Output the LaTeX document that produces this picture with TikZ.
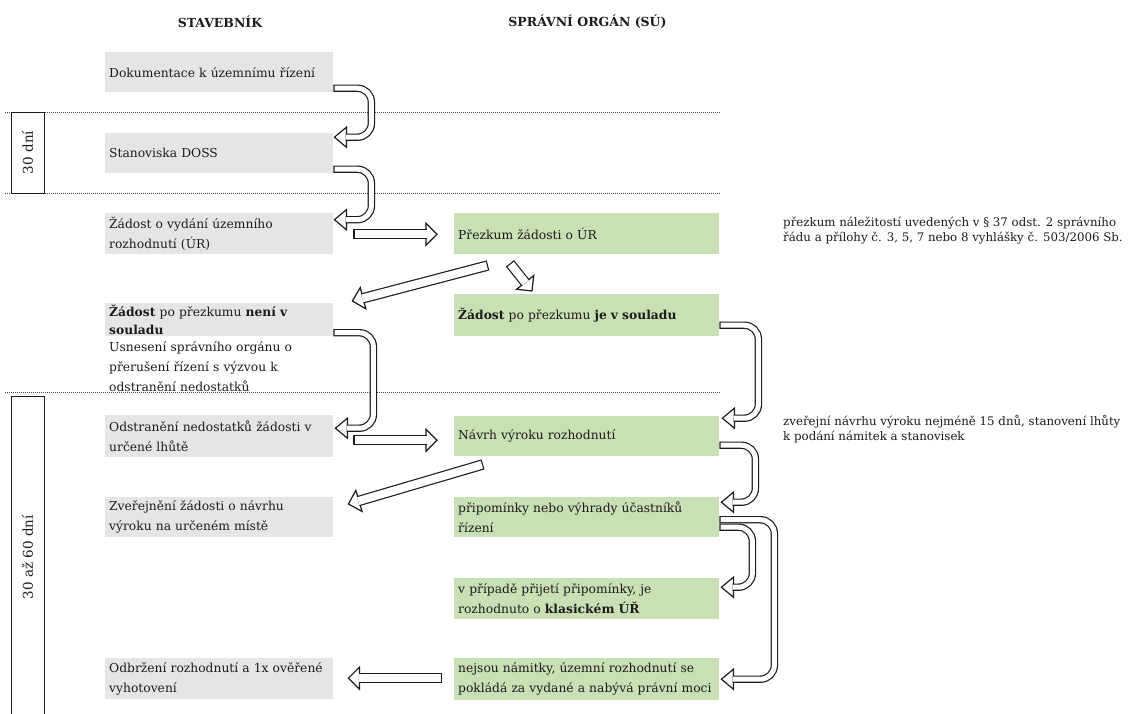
\documentclass[tikz,border=0pt]{standalone}
\usepackage{fontspec}
\setmainfont{DejaVu Serif}
\usetikzlibrary{calc}

\definecolor{boxgray}{RGB}{229,229,229}
\definecolor{boxgreen}{RGB}{201,223,180}
\definecolor{ink}{RGB}{28,28,28}

% hollow arrow head: tip, point it comes from, length, half width
\newcommand\blockhead[4]{%
  \coordinate (hb) at ($(#1)!#3!(#2)$);
  \filldraw[headline] (#1) -- ($(hb)!#4!90:(#1)$) -- ($(hb)!#4!-90:(#1)$) -- cycle;}

% straight hollow arrow: start, tip
\newcommand\straightarrow[2]{%
  \blockhead{#2}{#1}{11pt}{11pt}
  \draw[line width=10.4pt, draw=ink] (#1) -- ($(#2)!10.2pt!(#1)$);
  \draw[line width=8pt, draw=white] ($(#1)!1.2pt!(#2)$) -- ($(#2)!10.2pt!(#1)$);}

% U-turn hollow arrow: start, tip, horizontal reach of the bend
\newcommand\uarrow[3]{%
  \coordinate (uf) at ($(#2)+(30,0)$);
  \blockhead{#2}{uf}{12pt}{10pt}
  \coordinate (ue) at ($(#2)+(11.2,0)$);
  \coordinate (uc) at ($(#1)+(#3,0)$);
  \draw[line width=7.4pt, draw=ink, rounded corners=14pt] (#1) -- (uc) |- (ue);
  \draw[line width=5pt, draw=white, rounded corners=14pt] ($(#1)+(1.2,0)$) -- (uc) |- (ue);}

\tikzset{
  txt/.style={font=\fontsize{12.3}{20}\selectfont, text=ink},
  lbox/.style={txt, anchor=north west, fill=boxgray, text width=220pt,
    inner xsep=4pt, inner ysep=0pt, align=left},
  rbox/.style={txt, anchor=north west, fill=boxgreen, text width=257pt,
    inner xsep=4pt, inner ysep=0pt, align=left},
  note/.style={font=\fontsize{11.8}{15}\selectfont, text=ink, anchor=north west,
    align=left, inner sep=0pt},
  colhead/.style={font=\fontsize{12.5}{15}\selectfont\bfseries, text=ink},
  sidebox/.style={draw=ink, line width=1pt, fill=white, rotate=90,
    font=\fontsize{13.5}{15}\selectfont, text=ink, inner sep=0pt},
  sepline/.style={draw=ink!80, line width=0.7pt, dash pattern=on 0.8pt off 1.2pt},
  headline/.style={fill=white, draw=ink, line width=1.2pt, line join=miter},
}

\begin{document}
\begin{tikzpicture}[x=1pt, y=-1pt]
\useasboundingbox (0,0) rectangle (1138,713);
\fill[white] (0,0) rectangle (1138,713);

% period separators
\draw[sepline] (5,112) -- (720,112);
\draw[sepline] (5,193) -- (720,193);
\draw[sepline] (5,392) -- (720,392);

% period labels
\node[sidebox, minimum width=81pt, minimum height=33pt] (p30) at (27.5,152.5) {30 dní};
\node[sidebox, minimum width=322pt, minimum height=33pt] (p60) at (27.5,557) {30 až 60 dní};

% column headings
\node[colhead] (hbuilder) at (220,22) {STAVEBNÍK};
\node[colhead] (hauthority) at (587.5,22) {SPRÁVNÍ ORGÁN (SÚ)};

% builder column
\node[lbox, minimum height=40pt] (d1) at (105,52) {Dokumentace k územnímu řízení};
\node[lbox, minimum height=40pt] (d2) at (105,133) {Stanoviska DOSS};
\node[lbox, minimum height=41pt] (d3) at (105,213) {Žádost o vydání územního\\rozhodnutí (ÚR)};
\node[lbox, minimum height=33pt, font=\fontsize{12.3}{17.5}\selectfont] (d4) at (105,303)
  {\textbf{Žádost} po přezkumu \textbf{není v}\\\textbf{souladu}};
\node[txt, anchor=north west, text width=220pt, inner xsep=4pt, inner ysep=0pt, align=left]
  (d4b) at ($(d4.south west)+(0,5)$)
  {Usnesení správního orgánu o\\přerušení řízení s výzvou k\\odstranění nedostatků};
\node[lbox, minimum height=42pt] (d5) at (105,415) {Odstranění nedostatků žádosti v\\určené lhůtě};
\node[lbox, minimum height=40pt] (d6) at (105,497) {Zveřejnění žádosti o návrhu\\výroku na určeném místě};
\node[lbox, minimum height=41pt] (d7) at (105,658) {Odbržení rozhodnutí a 1x ověřené\\vyhotovení};

% authority column
\node[rbox, minimum height=41pt] (g1) at (454,213) {Přezkum žádosti o ÚR};
\node[rbox, minimum height=42pt] (g2) at (454,294) {\textbf{Žádost} po přezkumu \textbf{je v souladu}};
\node[rbox, minimum height=40pt] (g3) at (454,416) {Návrh výroku rozhodnutí};
\node[rbox, minimum height=40pt] (g4) at (454,497) {připomínky nebo výhrady účastníků\\řízení};
\node[rbox, minimum height=41pt] (g5) at (454,578) {v případě přijetí připomínky, je\\rozhodnuto o \textbf{klasickém ÚŘ}};
\node[rbox, minimum height=42pt] (g6) at (454,658) {nejsou námitky, územní rozhodnutí se\\pokládá za vydané a nabývá právní moci};

% remarks
\node[note] (n1) at (783,217) {přezkum náležitostí uvedených v § 37 odst. 2 správního\\řádu a přílohy č. 3, 5, 7 nebo 8 vyhlášky č. 503/2006 Sb.};
\node[note] (n2) at (783,415) {zveřejní návrhu výroku nejméně 15 dnů, stanovení lhůty\\k podání námitek a stanovisek};

% U-turn arrows
\coordinate (a1s) at ($(d1.east)+(0,16)$);  \coordinate (a1t) at ($(d2.east)+(1,-16)$);
\uarrow{a1s}{a1t}{38}
\coordinate (a2s) at ($(d2.east)+(0,16)$);  \coordinate (a2t) at ($(d3.east)+(1,-14)$);
\uarrow{a2s}{a2t}{38}
\coordinate (a3s) at ($(d4.east)+(0,13)$);  \coordinate (a3t) at ($(d5.east)+(2,-8)$);
\uarrow{a3s}{a3t}{40}
\coordinate (a4s) at ($(g2.east)+(0,10)$);  \coordinate (a4t) at ($(g3.east)+(3,-18)$);
\uarrow{a4s}{a4t}{39}
\coordinate (a5s) at ($(g3.east)+(0,9)$);   \coordinate (a5t) at ($(g4.east)+(2,-15)$);
\uarrow{a5s}{a5t}{36}
\coordinate (a7s) at ($(g4.east)+(0,2.5)$); \coordinate (a7t) at ($(g6.east)+(2,0)$);
\uarrow{a7s}{a7t}{55}
\coordinate (a6s) at ($(g4.east)+(0,10)$);  \coordinate (a6t) at ($(g5.east)+(2,-11.5)$);
\uarrow{a6s}{a6t}{33}

% straight arrows
\coordinate (s1s) at ($(d3.east)+(20,0.5)$);  \coordinate (s1t) at ($(g1.west)+(-17,0.5)$);
\straightarrow{s1s}{s1t}
\coordinate (s2s) at ($(d5.east)+(20,4)$);    \coordinate (s2t) at ($(g3.west)+(-17,4)$);
\straightarrow{s2s}{s2t}
\coordinate (s3s) at ($(g6.west)+(-12,-1)$);  \coordinate (s3t) at ($(d7.east)+(15,-0.5)$);
\straightarrow{s3s}{s3t}

% diagonal arrows
\coordinate (t1s) at ($(g1.south west)+(34,11)$); \coordinate (t1t) at ($(d4.north east)+(19,-2)$);
\straightarrow{t1s}{t1t}
\coordinate (t2s) at ($(g1.south west)+(56,9)$);  \coordinate (t2t) at ($(g2.north west)+(78,-3)$);
\straightarrow{t2s}{t2t}
\coordinate (t3s) at ($(g3.south west)+(29,8)$);  \coordinate (t3t) at ($(d6.north east)+(15,7)$);
\straightarrow{t3s}{t3t}
\end{tikzpicture}
\end{document}
